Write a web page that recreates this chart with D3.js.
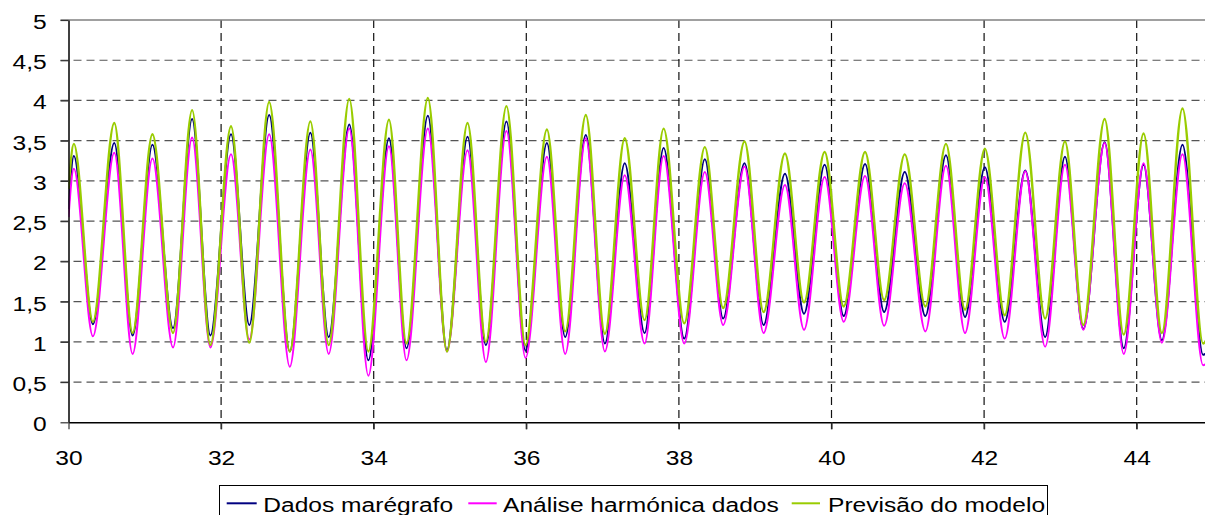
<!DOCTYPE html>
<html>
<head>
<meta charset="utf-8">
<script src="https://cdn.jsdelivr.net/npm/d3@7"></script>
<style>
  html, body { margin: 0; padding: 0; background: #fff; }
  svg { display: block; font-family: "Liberation Sans", Arial, sans-serif; }
</style>
</head>
<body>
<div id="chart"></div>
<script>
// Maré: marégrafo vs análise harmónica vs modelo (dias 30 a 45)

// instantes (dias) dos extremos
const tempos = [30.00,
  30.07, 30.32, 30.60, 30.84, 31.10, 31.37, 31.62, 31.86, 32.13, 32.37,
  32.63, 32.90, 33.17, 33.41, 33.68, 33.93, 34.20, 34.43, 34.71, 34.96,
  35.23, 35.47, 35.74, 35.99, 36.27, 36.51, 36.78, 37.03, 37.29, 37.55,
  37.80, 38.07, 38.34, 38.58, 38.86, 39.11, 39.39, 39.64, 39.91, 40.16,
  40.44, 40.69, 40.96, 41.23, 41.50, 41.75, 42.01, 42.27, 42.54, 42.80,
  43.06, 43.30, 43.58, 43.83, 44.09, 44.33, 44.60, 44.87, 45.00];

const dadosMaregrafo = [2.65,
  3.31, 1.22, 3.47, 1.08, 3.45, 1.17, 3.77, 1.08, 3.58, 1.21,
  3.82, 0.88, 3.60, 1.06, 3.70, 0.77, 3.53, 0.92, 3.81, 0.90,
  3.55, 0.96, 3.74, 0.89, 3.47, 1.06, 3.57, 0.98, 3.22, 1.11,
  3.41, 1.04, 3.27, 1.29, 3.22, 1.21, 3.09, 1.35, 3.20, 1.32,
  3.21, 1.37, 3.11, 1.32, 3.32, 1.31, 3.17, 1.25, 3.13, 1.06,
  3.30, 1.16, 3.48, 0.92, 3.20, 1.02, 3.45, 0.84, 1.00];

const analiseHarmonica = [2.55,
  3.15, 1.07, 3.35, 0.85, 3.28, 0.93, 3.54, 0.93, 3.33, 1.03,
  3.58, 0.69, 3.39, 0.85, 3.65, 0.58, 3.43, 0.77, 3.65, 0.88,
  3.38, 0.75, 3.62, 0.80, 3.30, 0.85, 3.53, 0.88, 3.07, 0.98,
  3.31, 0.98, 3.11, 1.21, 3.18, 1.11, 2.95, 1.15, 3.05, 1.25,
  3.06, 1.20, 2.97, 1.13, 3.19, 1.11, 3.05, 1.04, 3.12, 0.94,
  3.20, 1.15, 3.47, 0.85, 3.22, 0.99, 3.33, 0.71, 0.85];

const previsaoModelo = [2.90,
  3.46, 1.25, 3.72, 1.11, 3.58, 1.11, 3.88, 0.96, 3.68, 0.99,
  3.98, 0.88, 3.74, 0.96, 4.02, 0.88, 3.76, 0.98, 4.03, 0.88,
  3.72, 1.00, 3.93, 0.96, 3.64, 1.13, 3.82, 1.10, 3.53, 1.27,
  3.65, 1.23, 3.42, 1.42, 3.49, 1.37, 3.34, 1.49, 3.36, 1.44,
  3.36, 1.52, 3.33, 1.44, 3.46, 1.40, 3.40, 1.33, 3.60, 1.29,
  3.49, 1.21, 3.77, 1.09, 3.59, 1.11, 3.90, 0.98, 1.30];

const xTicks = [30, 32, 34, 36, 38, 40, 42, 44];
const yTicks = [0, 0.5, 1, 1.5, 2, 2.5, 3, 3.5, 4, 4.5, 5];

const series = [
  { nome: 'Dados marégrafo', valores: dadosMaregrafo, cor: '#000080', largura: 2 },
  { nome: 'Análise harmónica dados', valores: analiseHarmonica, cor: '#FF00FF', largura: 2 },
  { nome: 'Previsão do modelo', valores: previsaoModelo, cor: '#99CC00', largura: 2.4 }
];

// Configurações
const W = 1205, H = 515;
const plot = { left: 68.5, top: 20, right: 1213, bottom: 422.3 };
const esticar = 'scale(1.17,1)'; // o texto original aparece alargado

const svg = d3.select('#chart').append('svg')
  .attr('width', W)
  .attr('height', H);

// Escalas
const x = d3.scaleLinear().domain([30, 45]).range([plot.left, plot.right]);
const y = d3.scaleLinear().domain([0, 5]).range([plot.bottom, plot.top]);

// Grelha horizontal (tracejada)
svg.append('g')
  .selectAll('line')
  .data(yTicks.filter(d => d > 0 && d < 5))
  .enter().append('line')
  .attr('x1', plot.left - 8).attr('x2', W)
  .attr('y1', d => y(d)).attr('y2', d => y(d))
  .attr('stroke', '#555')
  .attr('stroke-width', 1.2)
  .attr('stroke-dasharray', '8,5');

// Grelha vertical (tracejada)
svg.append('g')
  .selectAll('line')
  .data(xTicks.filter(d => d > 30))
  .enter().append('line')
  .attr('x1', d => x(d)).attr('x2', d => x(d))
  .attr('y1', plot.top).attr('y2', plot.bottom + 7)
  .attr('stroke', '#111')
  .attr('stroke-width', 1.2)
  .attr('stroke-dasharray', '8,5');

// Bordo superior
svg.append('line')
  .attr('x1', plot.left - 8).attr('x2', W)
  .attr('y1', y(5)).attr('y2', y(5))
  .attr('stroke', '#808080')
  .attr('stroke-width', 1.5);

// Linhas
const linha = d3.line()
  .x((d, i) => x(tempos[i]))
  .y(d => y(d))
  .curve(d3.curveMonotoneX);

svg.append('defs').append('clipPath').attr('id', 'clip')
  .append('rect')
  .attr('x', plot.left).attr('y', plot.top - 5)
  .attr('width', plot.right - plot.left).attr('height', plot.bottom - plot.top + 5);

svg.append('g').attr('clip-path', 'url(#clip)')
  .selectAll('path')
  .data(series)
  .enter().append('path')
  .attr('d', d => linha(d.valores))
  .attr('fill', 'none')
  .attr('stroke', d => d.cor)
  .attr('stroke-width', d => d.largura)
  .attr('stroke-linejoin', 'round');

// Eixos
const eixoY = svg.append('g')
  .attr('transform', `translate(${plot.left},0)`)
  .call(d3.axisLeft(y).tickValues(yTicks).tickSizeInner(8).tickSizeOuter(0)
    .tickFormat(d => String(d).replace('.', ',')));
eixoY.select('.domain').attr('stroke', '#000').attr('stroke-width', 1.5);
eixoY.selectAll('.tick line').attr('stroke', '#333').attr('stroke-width', 1.2);
eixoY.selectAll('text')
  .attr('x', 0).attr('dy', '0.4em')
  .attr('transform', `translate(-21.8,0) ${esticar}`)
  .style('font-size', '21px')
  .attr('fill', '#000');

const eixoX = svg.append('g')
  .attr('transform', `translate(0,${plot.bottom})`)
  .call(d3.axisBottom(x).tickValues(xTicks).tickSizeInner(7).tickSizeOuter(0));
eixoX.select('.domain').attr('stroke', '#000').attr('stroke-width', 1.5);
eixoX.selectAll('.tick line').attr('stroke', '#333').attr('stroke-width', 1.2);
eixoX.selectAll('text')
  .attr('y', 0).attr('dy', 0)
  .attr('transform', `translate(0,42.7) ${esticar}`)
  .style('font-size', '21px')
  .attr('fill', '#000');

// Legenda
const legenda = svg.append('g');
legenda.append('rect')
  .attr('x', 219.5).attr('y', 485.5)
  .attr('width', 828).attr('height', 60)
  .attr('fill', '#fff')
  .attr('stroke', '#000')
  .attr('stroke-width', 1);

const posLegenda = [
  { x1: 226.7, x2: 256.7, tx: 263.3 },
  { x1: 468.3, x2: 496.7, tx: 503 },
  { x1: 791.7, x2: 820, tx: 828 }
];

series.forEach((s, i) => {
  const p = posLegenda[i];
  legenda.append('line')
    .attr('x1', p.x1).attr('x2', p.x2)
    .attr('y1', 503.3).attr('y2', 503.3)
    .attr('stroke', s.cor)
    .attr('stroke-width', 2);
  legenda.append('text')
    .attr('transform', `translate(${p.tx},511.7) ${esticar}`)
    .style('font-size', '21px')
    .attr('fill', '#000')
    .text(s.nome);
});
</script>
</body>
</html>
